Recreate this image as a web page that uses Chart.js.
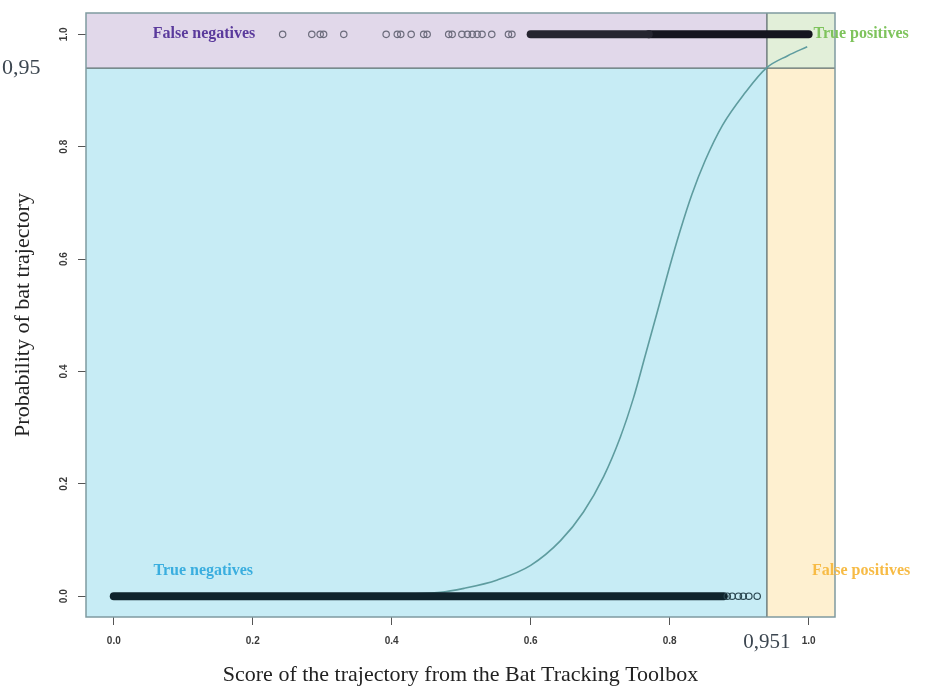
<!DOCTYPE html>
<html>
<head>
<meta charset="utf-8">
<script src="https://cdn.jsdelivr.net/npm/chart.js@4/dist/chart.umd.min.js"></script>
<style>
  body { margin: 0; background: #fff; }
  #wrap { width: 929px; height: 689px; position: relative; }
</style>
</head>
<body>
<div id="wrap"><canvas id="chart"></canvas></div>
<script>
// Axis ticks
const xTicks = [0.0, 0.2, 0.4, 0.6, 0.8, 1.0];
const yTicks = [0.0, 0.2, 0.4, 0.6, 0.8, 1.0];

// Thresholds (as drawn) and their labels
const thresholdX = 0.94;
const thresholdY = 0.94;
const thresholdXLabel = '0,951';
const thresholdYLabel = '0,95';

// Fitted logistic curve
const curveX = [0.00, 0.30, 0.47, 0.504, 0.552, 0.600, 0.643, 0.676, 0.705, 0.729, 0.748, 0.765, 0.782, 0.799, 0.815, 0.832, 0.851, 0.876, 0.908, 0.939, 0.970, 0.998];
const curveY = [0.000, 0.001, 0.007, 0.014, 0.029, 0.055, 0.099, 0.150, 0.213, 0.283, 0.353, 0.429, 0.505, 0.582, 0.650, 0.715, 0.775, 0.838, 0.895, 0.940, 0.962, 0.978];

// Observations: bats (y = 1) and non-bats (y = 0)
const batSparseX = [0.243, 0.285, 0.297, 0.302, 0.331, 0.392, 0.408, 0.413, 0.428, 0.446, 0.451, 0.482, 0.487, 0.501, 0.509, 0.516, 0.523, 0.530, 0.544, 0.568, 0.573];
const batLooseRange = [0.600, 0.770];
const batDenseRange = [0.770, 1.000];
const noBatSparseX = [0.883, 0.890, 0.899, 0.906, 0.914, 0.926];
const noBatDenseRange = [0.000, 0.878];

const regionLabels = [
  { text: 'False negatives', x: 0.056, y: 1.0, color: '#5a3a9c' },
  { text: 'True positives', x: 1.007, y: 1.0, color: '#7ec35c' },
  { text: 'True negatives', x: 0.057, y: 0.046, color: '#3aaedf' },
  { text: 'False positives', x: 1.005, y: 0.046, color: '#f7bb45' }
];

const serif = '"Liberation Serif", "DejaVu Serif", serif';

const quadrants = {
  id: 'quadrants',
  beforeDatasetsDraw(chart) {
    const { ctx, chartArea: a, scales: { x, y } } = chart;
    const tx = x.getPixelForValue(thresholdX);
    const ty = y.getPixelForValue(thresholdY);
    ctx.save();
    ctx.fillStyle = '#e1d8ea';
    ctx.fillRect(a.left, a.top, tx - a.left, ty - a.top);
    ctx.fillStyle = '#c7ecf5';
    ctx.fillRect(a.left, ty, tx - a.left, a.bottom - ty);
    ctx.fillStyle = '#e2efd9';
    ctx.fillRect(tx, a.top, a.right - tx, ty - a.top);
    ctx.fillStyle = '#fef0d0';
    ctx.fillRect(tx, ty, a.right - tx, a.bottom - ty);

    ctx.strokeStyle = '#5d6e6e';
    ctx.lineWidth = 1.3;
    ctx.beginPath();
    ctx.moveTo(tx, a.top);
    ctx.lineTo(tx, a.bottom);
    ctx.moveTo(a.left, ty);
    ctx.lineTo(a.right, ty);
    ctx.stroke();
    ctx.restore();
  },
  afterDatasetsDraw(chart) {
    const { ctx, chartArea: a } = chart;
    ctx.save();
    ctx.strokeStyle = '#7f9aa0';
    ctx.lineWidth = 1.5;
    ctx.strokeRect(a.left, a.top, a.right - a.left, a.bottom - a.top);
    ctx.restore();
  },
  afterDraw(chart) {
    const { ctx, scales: { x, y } } = chart;
    ctx.save();
    ctx.textBaseline = 'middle';
    ctx.font = 'bold 16px ' + serif;
    regionLabels.forEach(l => {
      ctx.fillStyle = l.color;
      ctx.textAlign = 'left';
      ctx.fillText(l.text, x.getPixelForValue(l.x), y.getPixelForValue(l.y));
    });
    // threshold values next to the axes
    ctx.font = '22px ' + serif;
    ctx.fillStyle = '#3c4650';
    ctx.textAlign = 'left';
    ctx.fillText(thresholdYLabel, 2, y.getPixelForValue(thresholdY));
    ctx.font = '21px ' + serif;
    ctx.textAlign = 'center';
    ctx.fillText(thresholdXLabel, x.getPixelForValue(thresholdX), x.top + 25);
    ctx.restore();
  }
};

const toPoints = (xs, ys) => xs.map((v, i) => ({ x: v, y: ys[i] }));

new Chart(document.getElementById('chart'), {
  type: 'scatter',
  data: {
    datasets: [
      {
        type: 'line',
        order: 5,
        data: toPoints(curveX, curveY),
        borderColor: '#5e9c9f',
        borderWidth: 1.6,
        pointRadius: 0,
        cubicInterpolationMode: 'monotone',
        fill: false
      },
      {
        type: 'line',
        order: 1,
        data: batLooseRange.map(v => ({ x: v, y: 1 })),
        borderColor: '#252530',
        borderWidth: 8,
        borderCapStyle: 'round',
        pointRadius: 0
      },
      {
        type: 'line',
        order: 1,
        data: batDenseRange.map(v => ({ x: v, y: 1 })),
        borderColor: '#15151f',
        borderWidth: 8,
        borderCapStyle: 'round',
        pointRadius: 0
      },
      {
        type: 'line',
        order: 1,
        data: noBatDenseRange.map(v => ({ x: v, y: 0 })),
        borderColor: '#0f232c',
        borderWidth: 8,
        borderCapStyle: 'round',
        pointRadius: 0
      },
      {
        order: 0,
        data: batSparseX.map(v => ({ x: v, y: 1 })),
        pointRadius: 3.2,
        pointBorderWidth: 1.2,
        pointBorderColor: '#6c6c7c',
        pointBackgroundColor: 'rgba(0,0,0,0)'
      },
      {
        order: 0,
        data: noBatSparseX.map(v => ({ x: v, y: 0 })),
        pointRadius: 3.2,
        pointBorderWidth: 1.2,
        pointBorderColor: '#2a4650',
        pointBackgroundColor: 'rgba(0,0,0,0)'
      }
    ]
  },
  options: {
    responsive: true,
    maintainAspectRatio: false,
    animation: false,
    layout: { padding: { top: 12, right: 94, bottom: 0, left: 0 } },
    plugins: {
      legend: { display: false },
      tooltip: { enabled: false }
    },
    scales: {
      x: {
        type: 'linear',
        min: -0.04,
        max: 1.038,
        afterBuildTicks: s => { s.ticks = xTicks.map(v => ({ value: v })); },
        afterFit: s => { s.height = 72; },
        border: { display: false },
        grid: { drawOnChartArea: false, drawTicks: true, tickLength: 8, color: '#555' },
        ticks: {
          callback: v => v.toFixed(1),
          font: { family: '"Liberation Sans", Arial, sans-serif', size: 10, weight: 'bold' },
          color: '#3a3a3a',
          padding: 10,
          maxRotation: 0
        },
        title: {
          display: true,
          text: 'Score of the trajectory from the Bat Tracking Toolbox',
          font: { family: serif, size: 22 },
          color: '#222',
          padding: { top: 0, bottom: 1 }
        }
      },
      y: {
        type: 'linear',
        min: -0.037,
        max: 1.038,
        afterBuildTicks: s => { s.ticks = yTicks.map(v => ({ value: v })); },
        afterFit: s => { s.width = 86; },
        border: { display: false },
        grid: { drawOnChartArea: false, drawTicks: true, tickLength: 8, color: '#555' },
        ticks: {
          callback: v => v.toFixed(1),
          font: { family: '"Liberation Sans", Arial, sans-serif', size: 10, weight: 'bold' },
          color: '#3a3a3a',
          padding: 7,
          minRotation: 90,
          maxRotation: 90,
          crossAlign: 'center'
        },
        title: {
          display: true,
          text: 'Probability of bat trajectory',
          font: { family: serif, size: 22 },
          color: '#222',
          padding: { top: 10, bottom: 0 }
        }
      }
    }
  },
  plugins: [quadrants]
});
</script>
</body>
</html>
